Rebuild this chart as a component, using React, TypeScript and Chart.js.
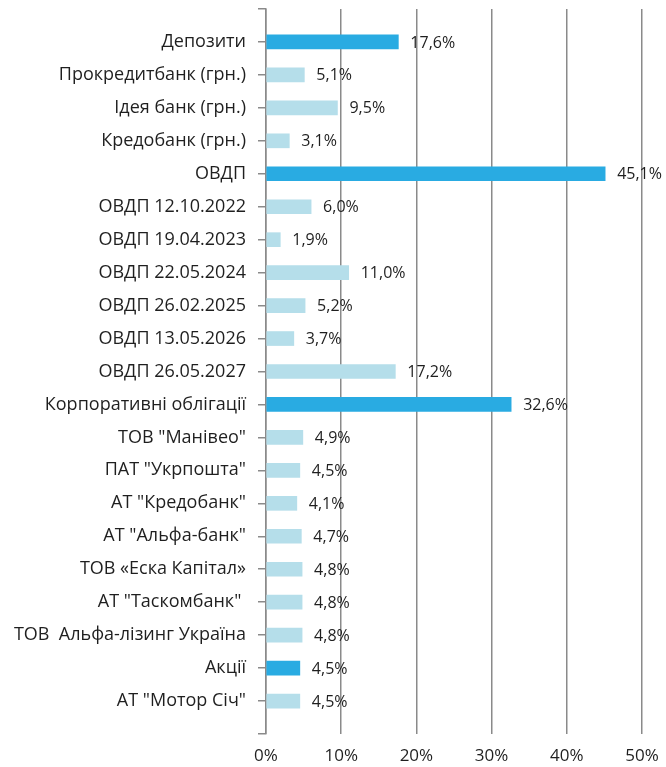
import React, { useEffect, useRef } from "react";
import { Chart, registerables } from "chart.js";

Chart.register(...registerables);

const categories = [
  "Депозити",
  "Прокредитбанк (грн.)",
  "Ідея банк (грн.)",
  "Кредобанк (грн.)",
  "ОВДП",
  "ОВДП 12.10.2022",
  "ОВДП 19.04.2023",
  "ОВДП 22.05.2024",
  "ОВДП 26.02.2025",
  "ОВДП 13.05.2026",
  "ОВДП 26.05.2027",
  "Корпоративні облігації",
  'ТОВ "Манівео"',
  'ПАТ "Укрпошта"',
  'АТ "Кредобанк"',
  'АТ "Альфа-банк"',
  "ТОВ «Еска Капітал»",
  'АТ "Таскомбанк" ',
  "ТОВ  Альфа-лізинг Україна",
  "Акції",
  'АТ "Мотор Січ"',
];

const values = [
  17.6, 5.1, 9.5, 3.1, 45.1, 6.0, 1.9, 11.0, 5.2, 3.7, 17.2, 32.6, 4.9, 4.5,
  4.1, 4.7, 4.8, 4.8, 4.8, 4.5, 4.5,
];

// true = group total (dark bar), false = component (light bar)
const isGroup = [
  true, false, false, false, true, false, false, false, false, false, false,
  true, false, false, false, false, false, false, false, true, false,
];

const xTicks = [0, 10, 20, 30, 40, 50];

const DARK = "#29ABE2";
const LIGHT = "#B5DEEA";
const FONT = "'Open Sans', sans-serif";

export default function App() {
  const ref = useRef<HTMLCanvasElement | null>(null);

  useEffect(() => {
    if (!ref.current) return;
    const labels = ["", ...categories, ""];
    const data = [null, ...values, null];
    const colors = [DARK, ...isGroup.map((g) => (g ? DARK : LIGHT)), DARK];

    const valueLabels = {
      id: "valueLabels",
      afterDatasetsDraw(chart: any) {
        const ctx = chart.ctx;
        const meta = chart.getDatasetMeta(0);
        ctx.save();
        ctx.font = `16px ${FONT}`;
        ctx.fillStyle = "#1f1f1f";
        ctx.textAlign = "left";
        ctx.textBaseline = "middle";
        meta.data.forEach((el: any, i: number) => {
          const v = data[i];
          if (v === null || v === undefined) return;
          ctx.fillText(v.toFixed(1).replace(".", ",") + "%", el.x + 12, el.y + 1);
        });
        ctx.restore();
      },
    };

    const chart = new Chart(ref.current, {
      type: "bar",
      data: {
        labels,
        datasets: [
          {
            data,
            backgroundColor: colors,
            barThickness: 14,
            borderWidth: 0,
          },
        ],
      },
      options: {
        indexAxis: "y",
        animation: false,
        responsive: true,
        maintainAspectRatio: false,
        layout: { padding: { top: 9, right: 24, left: 0, bottom: 0 } },
        plugins: {
          legend: { display: false },
          tooltip: { enabled: false },
        },
        scales: {
          x: {
            min: 0,
            max: 50,
            afterBuildTicks(scale: any) {
              scale.ticks = xTicks.map((v) => ({ value: v }));
            },
            afterFit(scale: any) {
              scale.height = 33;
              scale.paddingLeft = 0;
              scale.paddingRight = 0;
            },
            border: { display: false },
            grid: {
              color: "#8a8a8a",
              lineWidth: 1.5,
              drawTicks: false,
            },
            ticks: {
              padding: 12,
              color: "#1f1f1f",
              font: { family: FONT, size: 17 },
              callback: (v: any) => `${v}%`,
            },
          },
          y: {
            type: "category",
            offset: false,
            afterFit(scale: any) {
              scale.width = 266;
              scale.paddingTop = 0;
              scale.paddingBottom = 0;
            },
            border: { display: true, color: "#8a8a8a", width: 1.5 },
            grid: {
              offset: false,
              drawOnChartArea: false,
              drawTicks: true,
              tickLength: 8,
              color: "#8a8a8a",
              lineWidth: 1.5,
            },
            ticks: {
              padding: 12,
              autoSkip: false,
              color: "#1f1f1f",
              font: { family: FONT, size: 18 },
            },
          },
        },
      },
      plugins: [valueLabels],
    });
    return () => chart.destroy();
  }, []);

  return (
    <div style={{ position: "fixed", left: 0, top: 0, width: 666, height: 767, background: "#fff" }}>
      <canvas ref={ref} />
    </div>
  );
}
